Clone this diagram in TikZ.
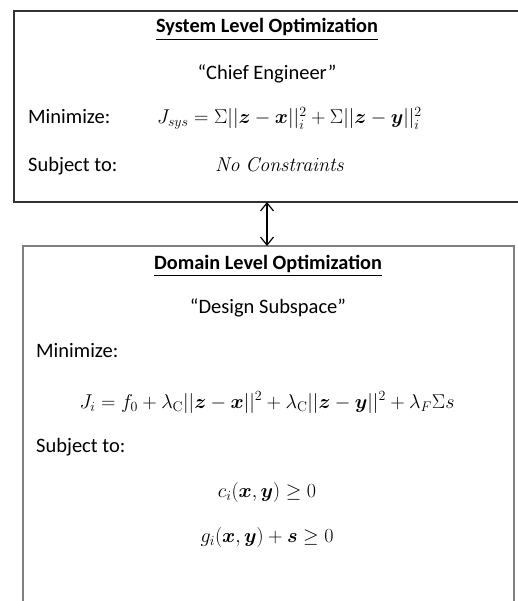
\RequirePackage{fix-cm}
\documentclass[tikz,border=0pt]{standalone}
\usepackage{amsmath,bm}
\usepackage[no-math]{fontspec}
\setmainfont{Carlito}
\usetikzlibrary{arrows.meta}

\newcommand{\nrm}[1]{\lvert\lvert #1\rvert\rvert}

\begin{document}
\begin{tikzpicture}[x=1pt, y=-1pt,
    every node/.style={font=\fontsize{20.5}{24}\selectfont, inner sep=0pt},
    heading/.style={anchor=base, font=\fontsize{20.3}{24}\selectfont\bfseries},
    caption/.style={anchor=base},
    tag/.style={anchor=base west},
    formula/.style={anchor=base, font=\fontsize{20}{24}\selectfont},
    frame/.style={line width=1.8pt, draw=black!80},
    subframe/.style={line width=1.6pt, draw=black!50}
  ]
    \useasboundingbox (0,0) rectangle (518,601);

    \draw[frame] (518,11) -- (14,11) -- (14,202) -- (518,202);
    \draw[subframe] (23,601) -- (23,246) -- (514,246) -- (514,601);

    \node[heading] (systitle) at (267,33) {\underline{System Level Optimization}};
    \node[caption] (sysrole) at (267,80) {“Chief Engineer”};
    \node[tag] (sysmin) at (28,124) {Minimize:};
    \node[formula, anchor=base west] (sysobj) at (157,124) {$J_{sys} = \Sigma\nrm{\bm{z}-\bm{x}}_i^2 + \Sigma\nrm{\bm{z}-\bm{y}}_i^2$};
    \node[tag] (syssub) at (28,172) {Subject to:};
    \node[formula, anchor=base west] (syscon) at (215,172) {$\mathit{No\ Constraints}$};

    \node[heading] (domtitle) at (268,269) {\underline{Domain Level Optimization}};
    \node[caption] (domrole) at (268,313) {“Design Subspace”};
    \node[tag] (dommin) at (36,357) {Minimize:};
    \node[formula] (domobj) at (267,408) {$J_i = f_0 + \lambda_{\mathrm{C}}\nrm{\bm{z}-\bm{x}}^2 + \lambda_{\mathrm{C}}\nrm{\bm{z}-\bm{y}}^2 + \lambda_F\Sigma s$};
    \node[tag] (domsub) at (36,452) {Subject to:};
    \node[formula] (domc) at (267,497) {$c_i(\bm{x},\bm{y}) \geq 0$};
    \node[formula] (domg) at (267,542) {$g_i(\bm{x},\bm{y}) + \bm{s} \geq 0$};

    \coordinate (syslow) at (267,202);
    \coordinate (domhigh) at (267,246);
    \draw[{Straight Barb[length=8pt,width=13pt]}-{Straight Barb[length=8pt,width=13pt]}, line width=1.2pt] (syslow) -- (domhigh);
  \end{tikzpicture}
\end{document}
